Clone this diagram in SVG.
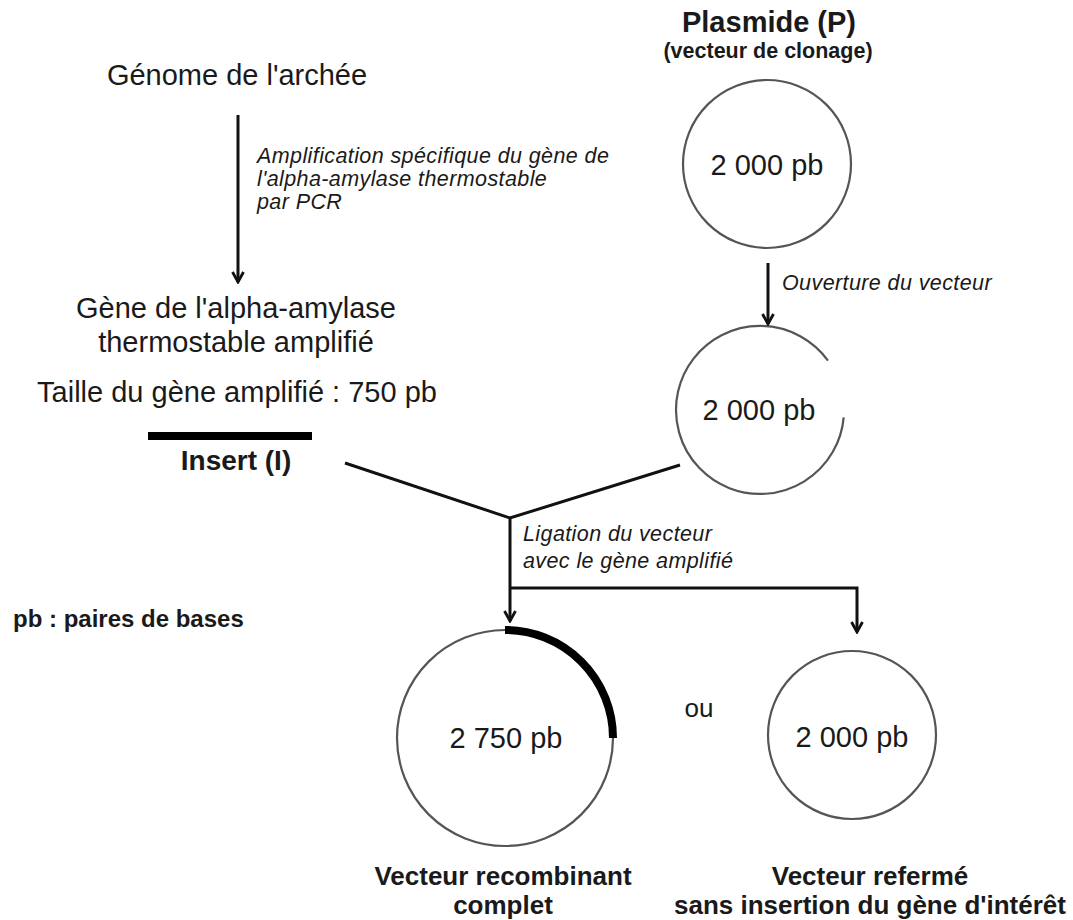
<svg xmlns="http://www.w3.org/2000/svg" width="1073" height="920" viewBox="0 0 1073 920">
<style>
.t{font-family:"Liberation Sans",Arial,sans-serif;fill:#1a1a1a}
.r{font-size:29px}
.b{font-size:26px;font-weight:bold}
.i{font-size:21.5px;font-style:italic;letter-spacing:0.4px}
.c{text-anchor:middle}
.circ{fill:none;stroke:#555;stroke-width:2.2}
.ln{fill:none;stroke:#111;stroke-width:3}
</style>
<defs>
<marker id="ah" viewBox="0 0 14 14" refX="12" refY="7" markerWidth="14" markerHeight="14" markerUnits="userSpaceOnUse" orient="auto">
<path d="M2,1.5 L12,7 L2,12.5" fill="none" stroke="#111" stroke-width="2.8"/>
</marker>
</defs>
<rect width="1073" height="920" fill="#fff"/>

<g id="genome">
<text class="t r c" x="237" y="85">Génome de l'archée</text>
</g>

<g id="gene">
<text class="t r c" x="236" y="318">Gène de l'alpha-amylase</text>
<text class="t r c" x="236" y="352">thermostable amplifié</text>
<text class="t r c" x="237" y="402">Taille du gène amplifié : 750 pb</text>
</g>

<g id="insert">
<line x1="148" y1="436" x2="312" y2="436" stroke="#000" stroke-width="8"/>
<text class="t c" x="236" y="470" font-size="28" font-weight="bold">Insert (I)</text>
</g>

<g id="legend">
<text class="t" x="13" y="627" font-size="24" font-weight="bold">pb : paires de bases</text>
</g>

<g id="plasmide">
<text class="t c" x="769" y="32" font-size="29" font-weight="bold">Plasmide (P)</text>
<text class="t c" x="768" y="58" font-size="21.5" font-weight="bold">(vecteur de clonage)</text>
<circle class="circ" cx="767" cy="164" r="84"/>
<text class="t r c" x="767" y="175">2 000 pb</text>
</g>

<g id="vecteur-ouvert">
<path class="circ" d="M843.7,417.3 A84,84 0 1 1 828,360.6"/>
<text class="t r c" x="759" y="420">2 000 pb</text>
</g>

<g id="vecteur-recombinant">
<circle class="circ" cx="505" cy="738" r="108"/>
<path d="M505,630 A108,108 0 0 1 613,738" fill="none" stroke="#000" stroke-width="8"/>
<text class="t r c" x="506" y="748">2 750 pb</text>
<text class="t b c" x="503" y="885">Vecteur recombinant</text>
<text class="t b c" x="503" y="914">complet</text>
</g>

<g id="ou">
<text class="t c" x="699" y="717" font-size="26">ou</text>
</g>

<g id="vecteur-referme">
<circle class="circ" cx="852" cy="735" r="84"/>
<text class="t r c" x="852" y="747">2 000 pb</text>
<text class="t b c" x="870" y="885">Vecteur refermé</text>
<text class="t b c" x="870" y="914">sans insertion du gène d'intérêt</text>
</g>

<g id="connectors">
<line class="ln" x1="238" y1="115" x2="238" y2="282" marker-end="url(#ah)"/>
<text class="t i" x="257" y="163">Amplification spécifique du gène de</text>
<text class="t i" x="257" y="186">l'alpha-amylase thermostable</text>
<text class="t i" x="257" y="209">par PCR</text>

<line class="ln" x1="768" y1="263" x2="768" y2="324" marker-end="url(#ah)"/>
<text class="t i" x="782" y="290">Ouverture du vecteur</text>

<polyline class="ln" points="345,463 510,518 680,465"/>
<line class="ln" x1="510" y1="518" x2="510" y2="621" marker-end="url(#ah)"/>
<polyline class="ln" points="510,588 857,588 857,632" marker-end="url(#ah)"/>
<text class="t i" x="523" y="541">Ligation du vecteur</text>
<text class="t i" x="523" y="568">avec le gène amplifié</text>
</g>
</svg>
